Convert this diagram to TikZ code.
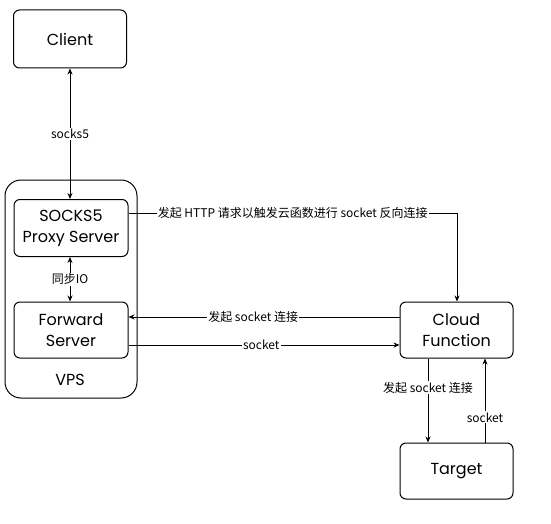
\documentclass[tikz,border=0pt]{standalone}
\usepackage{fontspec}
\setmainfont{Noto Sans CJK SC}
\newfontfamily\boxfont{Poppins}
\usetikzlibrary{arrows.meta}
\begin{document}
\begin{tikzpicture}[x=1pt,y=-1pt,
  box/.style={draw, line width=1pt, rounded corners=6pt, align=center,
    font=\boxfont\fontsize{16}{21}\selectfont},
  outer/.style={draw, line width=1pt, rounded corners=16pt},
  conn/.style={line width=0.8pt, -{Stealth[length=6pt,width=5pt]}},
  biconn/.style={line width=0.8pt, {Stealth[length=6pt,width=5pt]}-{Stealth[length=6pt,width=5pt]}},
  lab/.style={fill=white, inner sep=1pt, font=\fontsize{12}{14}\selectfont}]
\useasboundingbox (0,0) rectangle (551,524);
\fill[white] (0,0) rectangle (551,524);
% VPS container
\draw[outer] (5,180) rectangle (137,398);
\node[font=\boxfont\fontsize{16}{18}\selectfont] (vps) at (70,380) {VPS};
% boxes
\node[box, minimum width=113pt, minimum height=58pt] (client) at (70,39) {Client};
\node[box, minimum width=114pt, minimum height=57pt] (socks) at (71,228) {SOCKS5\\Proxy Server};
\node[box, minimum width=114pt, minimum height=56pt] (fwd) at (71,330) {Forward\\Server};
\node[box, minimum width=113pt, minimum height=56pt] (cloud) at (456.5,330) {Cloud\\Function};
\node[box, minimum width=113pt, minimum height=56pt] (target) at (456.5,471) {Target};
% helper coordinates
\coordinate (corner) at (457,213);
% connectors
\draw[biconn] (client.south -| 70,0) -- node[lab] {socks5} (socks.north -| 70,0);
\draw[biconn] (socks.south -| 70,0) -- node[lab] {同步IO} (fwd.north -| 70,0);
\draw[conn] (socks.east |- corner) -- node[lab, pos=0.5] {发起 HTTP 请求以触发云函数进行 socket 反向连接} (corner) -- (cloud.north -| corner);
\draw[conn] (cloud.west |- 0,317) -- node[lab, pos=0.54] {发起 socket 连接} (fwd.east |- 0,317);
\draw[conn] (fwd.east |- 0,345) -- node[lab, pos=0.49] {socket} (cloud.west |- 0,345);
\draw[conn] (cloud.south -| 428,0) -- node[lab, pos=0.35] {发起 socket 连接} (target.north -| 428,0);
\draw[conn] (target.north -| 485,0) -- node[lab, pos=0.3] {socket} (cloud.south -| 485,0);
\end{tikzpicture}
\end{document}
